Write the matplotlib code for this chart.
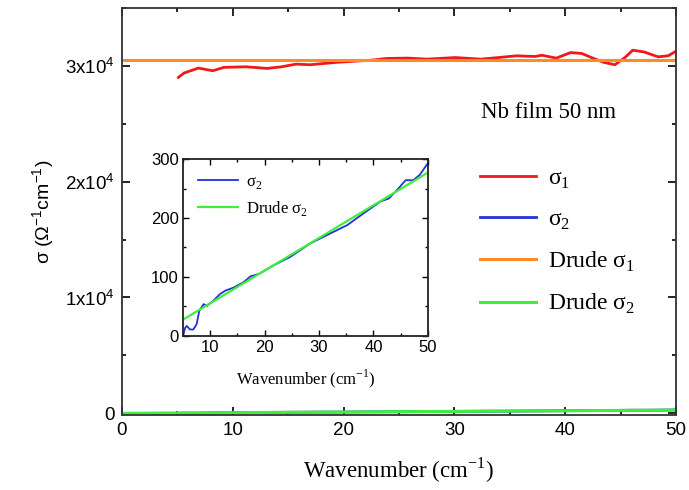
import numpy as np
import matplotlib
matplotlib.use("Agg")
import matplotlib.pyplot as plt
from matplotlib.ticker import MultipleLocator, FixedLocator

sig1_x = [5.1, 5.6, 6.9, 8.2, 9.2, 11.2, 13.1, 14.4, 15.7, 17.0, 19.3, 22.6, 23.9,
          25.8, 27.5, 30.1, 32.4, 34.0, 35.6, 37.3, 37.9, 39.2, 40.5, 41.5, 42.5,
          43.5, 44.5, 45.4, 46.1, 47.1, 48.4, 49.3, 50.0]
sig1_y = [29000, 29370, 29800, 29570, 29860, 29910, 29770, 29910, 30140, 30090,
          30290, 30490, 30630, 30660, 30570, 30710, 30570, 30710, 30860, 30800,
          30910, 30660, 31140, 31060, 30660, 30290, 30090, 30710, 31340, 31200,
          30770, 30860, 31250]

sig2_x = [5.0, 5.4, 5.7, 6.3, 6.9, 7.5, 8.0, 8.8, 9.4, 10.6, 11.8, 12.8, 14.3,
          16.1, 17.4, 18.9, 21.7, 24.7, 28.4, 32.1, 35.2, 38.2, 41.3, 42.8,
          44.4, 45.9, 47.3, 48.5, 50.0]
sig2_y = [0, 14, 17, 11, 11, 20, 43, 54, 51, 60, 71, 77, 82, 91, 101, 105, 120,
          134, 157, 174, 188, 208, 228, 233, 248, 264, 264, 273, 293]

# Drude fit
drude1_x = [0, 50]
drude1_y = [30500, 30500]
drude2_x = [0, 50]
drude2_y = [0, 277]

c_red = "#f01818"
c_blue = "#2430d8"
c_orange = "#ff8c24"
c_green = "#3cf03c"

serif = "Liberation Serif"
sans = "Liberation Sans"

fig = plt.figure(figsize=(6.89, 4.9), dpi=100)
ax = fig.add_axes([0.177, 0.153, 0.804, 0.831])

ax.plot(sig1_x, sig1_y, color=c_red, lw=2, label="σ$_\\mathregular{1}$")
ax.plot(sig2_x, sig2_y, color=c_blue, lw=2, label="σ$_\\mathregular{2}$")
ax.plot(drude1_x, drude1_y, color=c_orange, lw=2.2, label="Drude σ$_\\mathregular{1}$")
ax.plot(drude2_x, drude2_y, color=c_green, lw=2.2, label="Drude σ$_\\mathregular{2}$")

ax.set_xlim(0, 50)
ax.set_ylim(-150, 35000)
ax.xaxis.set_major_locator(MultipleLocator(10))
ax.xaxis.set_minor_locator(MultipleLocator(5))
ax.yaxis.set_major_locator(FixedLocator([0, 10000, 20000, 30000]))
ax.yaxis.set_minor_locator(MultipleLocator(5000))
ax.set_yticklabels(["0", "1x10$^\\mathregular{4}$", "2x10$^\\mathregular{4}$",
                    "3x10$^\\mathregular{4}$"])
ax.tick_params(which="both", direction="in", top=True, right=True, width=1.2)
ax.tick_params(which="major", length=6, labelsize=13.5, pad=5)
ax.tick_params(which="minor", length=3)
for lab in ax.get_xticklabels() + ax.get_yticklabels():
    lab.set_family(sans)
for s in ax.spines.values():
    s.set_linewidth(1.3)
    s.set_color("#333333")

ax.set_xlabel("Wavenumber (cm$^\\mathregular{-1}$)", family=serif, fontsize=16.5, labelpad=12)
ax.set_ylabel("σ (Ω$^\\mathregular{-1}$cm$^\\mathregular{-1}$)", family=sans, fontsize=14, labelpad=6)

ax.text(0.648, 0.742, "Nb film 50 nm", transform=ax.transAxes, family=serif,
        fontsize=16.5, va="center")

ax.legend(loc="upper left", bbox_to_anchor=(0.646, 0.607), frameon=False,
          prop={"family": serif, "size": 17}, handlelength=2.4,
          labelspacing=0.77, handletextpad=0.5, borderaxespad=0, borderpad=0)

# inset
ins = fig.add_axes([0.2656, 0.3143, 0.3554, 0.3612])
ins.plot(sig2_x, sig2_y, color=c_blue, lw=1.3, label="σ$_\\mathregular{2}$")
ins.plot(drude2_x, drude2_y, color=c_green, lw=1.6, label="Drude σ$_\\mathregular{2}$")
ins.set_xlim(5, 50)
ins.set_ylim(0, 300)
ins.xaxis.set_major_locator(MultipleLocator(10))
ins.xaxis.set_minor_locator(MultipleLocator(5))
ins.yaxis.set_major_locator(MultipleLocator(100))
ins.yaxis.set_minor_locator(MultipleLocator(50))
ins.tick_params(which="both", direction="in", top=True, right=True, width=1)
ins.tick_params(which="major", length=4, labelsize=12, pad=3)
ins.tick_params(which="minor", length=2)
for lab in ins.get_xticklabels() + ins.get_yticklabels():
    lab.set_family(sans)
for s in ins.spines.values():
    s.set_linewidth(1.3)
    s.set_color("#222222")
ins.set_xlabel("Wavenumber (cm$^\\mathregular{-1}$)", family=serif, fontsize=12, labelpad=9)
ins.legend(loc="upper left", bbox_to_anchor=(0.061, 0.915), frameon=False,
           prop={"family": serif, "size": 12}, handlelength=2.4,
           labelspacing=0.45, handletextpad=0.5, borderaxespad=0, borderpad=0)

fig.savefig("out.png", dpi=100)
